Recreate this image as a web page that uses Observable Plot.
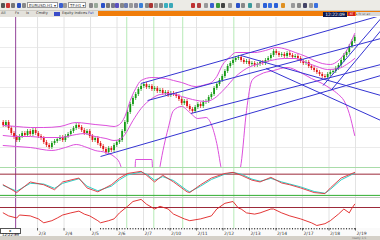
<!DOCTYPE html>
<html><head><meta charset="utf-8">
<script src="https://cdn.jsdelivr.net/npm/d3@7"></script>
<script src="https://cdn.jsdelivr.net/npm/@observablehq/plot@0.6"></script>
<style>
html,body{margin:0;padding:0;background:#d6d3ce;}
#wrap{position:relative;width:380px;height:240px;overflow:hidden;font-family:"DejaVu Sans",sans-serif;background:#fff;}
.abs{position:absolute;}
.ico{position:absolute;top:3px;width:4px;height:5px;border-radius:1px;}
.dd{position:absolute;top:2px;height:6px;background:#fff;border:1px solid #9a9a9a;font-size:4px;line-height:6px;color:#333;padding-left:1px;box-sizing:border-box;white-space:nowrap;overflow:hidden;}
.tab{position:absolute;top:11px;height:5px;font-size:3.6px;line-height:5px;color:#333;white-space:nowrap;}
svg{display:block;}
</style></head>
<body><div id="wrap">
 <div class="abs" id="tb" style="left:0;top:0;width:380px;height:11px;background:#ecebe6;border-bottom:1px solid #cfccc4;box-sizing:border-box;"></div>
 <div class="dd" style="left:27px;width:31px;">EURUSD,H1 ▾</div>
 <div class="dd" style="left:68px;width:18px;">TF:H1 ▾</div>
 <div class="abs" style="left:0;top:11px;width:98px;height:6px;background:#e4e2dc;"></div>
 <div class="tab" style="left:1px;">All</div>
 <div class="tab" style="left:15px;">Fx</div>
 <div class="tab" style="left:26px;">Ix</div>
 <div class="tab" style="left:36px;">Cmdty</div>
 <div class="abs" style="left:54px;top:12px;width:6px;height:4px;background:#3a4cc8;"></div>
 <div class="tab" style="left:62px;">Equity Indices</div>
 <div class="tab" style="left:88px;color:#2040c0;">Fut</div>
 <div class="abs" style="left:98px;top:11px;width:282px;height:5px;background:#f07d0a;"></div>
 <div class="abs" style="left:323px;top:12px;width:24px;height:5px;background:#0c1850;color:#fff;font-size:4.4px;line-height:5px;text-align:center;">12:22:09</div>
 <div class="abs" style="left:348px;top:12px;width:7px;height:4px;background:#d42020;color:#fff;font-size:3px;line-height:4px;text-align:center;">RT</div>
 <div class="abs" style="left:356px;top:12px;width:24px;height:4px;background:#d9d9d9;color:#555;font-size:3px;line-height:4px;">▸ fx sx ax</div>
 <div id="main" class="abs" style="left:0;top:17px;"></div>
 <div class="abs" style="left:0;top:167px;width:380px;height:1px;background:#a9dca9;"></div>
 <div id="stoch" class="abs" style="left:0;top:168px;"></div>
 <div class="abs" style="left:0;top:197px;width:380px;height:1px;background:#c4c4c4;"></div>
 <div id="rsi" class="abs" style="left:0;top:198px;"></div>
 <div id="axis" class="abs" style="left:0;top:228px;"></div>
 <div class="abs" style="left:0;top:228px;width:21px;height:6px;background:#fff;border:1px solid #555;box-sizing:border-box;font-size:3.8px;line-height:4px;color:#111;text-align:center;">▸ 12:22:09</div>
 <div class="abs" style="left:0;top:236px;width:380px;height:4px;background:#d4d0c8;"></div>
 <div class="abs" style="left:352px;top:236px;width:28px;height:4px;font-size:3px;line-height:4px;color:#777;">ready 1/1</div>
</div>
<script>
// ---- data (price in chart units, x = bar index) ----
const closes = [43,46,40,35,31,28,32,35,33,37,
 34,38,35,32,30,26,23,21,25,27,
 29,31,28,32,34,37,40,43,41,38,
 35,37,32,28,30,25,22,19,16,20,
 18,23,26,28,37,46,56,64,70,74,
 79,82,84,81,82,79,80,77,78,75,
 76,73,75,74,72,69,65,67,62,59,
 57,61,64,62,66,67,71,74,80,84,
 88,92,97,102,105,108,110,111,108,106,
 107,104,105,103,104,106,105,108,110,113,
 117,115,113,114,112,115,113,111,112,110,
 107,105,106,102,100,98,96,94,92,91,
 94,96,97,100,103,108,113,116,122,127,
 131];
const upperBand = [[0,43],[5,42],[10,41],[15,41],[21,42],[27,46],[31,45],[34,44],[38,43],[41,42],[43,44],[45,52],[47,68],[49,80],[51,88],[55,91],[60,90],[63,88],[66,86],[71,82],[75,84],[77,86],[79,92],[81,103],[84,112],[86,116],[93,116],[97,118],[101,121],[105,119],[108,116],[112,112],[115,108],[118,105],[121,104],[124,108],[127,118],[130,135]];
const middleBand = [[0,33],[5,32],[10,32],[15,31],[21,31],[27,34],[30,35],[34,32],[38,30],[41,28],[43,29],[45,34],[48,48],[51,60],[55,70],[58,74],[62,75],[66,72],[70,69],[75,67],[78,70],[82,80],[86,92],[90,100],[95,105],[99,108],[104,110],[108,110],[112,106],[116,102],[120,99],[124,100],[127,104],[130,110]];
const lowerBand = [[0,23],[5,22],[10,21],[18,18],[23,21],[27,24],[31,21],[34,18],[38,16],[41,12],[43,6],[45,-10],[48.5,-15],[49,9],[55,9],[55.5,-15],[57,-15],[58,2],[61,40],[63,58],[66,62],[69,56],[72,50],[75,51],[77,44],[79,25],[81,-5],[83,-20],[86,-15],[88,5],[90,58],[92,88],[95,94],[100,98],[105,101],[110,96],[114,90],[118,85],[121,80],[124,74],[126,68],[128,55],[130,33]];
const trendLines = [[50.9,85,139.7,153],[53.4,68,139.7,130],[36.0,12,139.7,93],[69.4,55,139.7,104],[87.9,113,139.7,73],[97.2,100,139.7,48],[118.3,83,139.7,150],[121.2,78,139.7,138]];
const stochK = [[0,50],[5,28],[10,58],[15,50],[19,36],[22,58],[28,69],[31,41],[35,30],[40,50],[43,69],[46,82],[51,88],[53,77],[56,58],[59,77],[63,58],[68,30],[69,28],[73,50],[77,69],[82,82],[85,85],[88,77],[92,63],[95,58],[99,71],[103,55],[106,50],[110,41],[115,28],[119,25],[121,41],[125,69],[130,85]];
const stochD = [[0,48],[5,32],[10,54],[15,52],[19,40],[22,54],[28,67],[31,46],[35,33],[40,46],[43,64],[46,78],[51,86],[53,80],[56,63],[59,73],[63,62],[68,34],[69,30],[73,46],[77,65],[82,80],[85,85],[88,80],[92,66],[95,60],[99,68],[103,58],[106,52],[110,44],[115,31],[119,26],[121,37],[125,64],[130,83]];
const rsi = [[0,52],[2,42],[5,35],[6,45],[10,42],[13,32],[15,19],[18,26],[20,35],[22,45],[25,52],[28,58],[30,48],[32,42],[35,26],[36,19],[39,26],[41,32],[43,52],[46,74],[48,90],[51,97],[53,81],[56,65],[58,74],[61,65],[63,48],[67,32],[69,26],[73,32],[77,42],[79,65],[82,84],[85,90],[87,68],[88,65],[90,52],[93,48],[95,52],[99,65],[100,65],[103,52],[106,42],[110,32],[114,19],[116,10],[119,16],[121,26],[124,48],[126,65],[128,52],[129,68],[130,81]];
const timeTicks = [12.7,22.5,32.3,42.1,51.9,61.7,71.5,81.3,91.1,100.9,110.7,120.5,130.3];
const timeLabels = ["2/3","2/4","2/5","2/6","2/7","2/10","2/11","2/12","2/13","2/14","2/17","2/18","2/19"];
const eventLines = [45.7,55.7,66.4,85.3];
const markerLine = [4.6];
const priceGrid = [21,41,61,81,101,121,141];
const stochLevels = {hi:[80], lo:[20]};
const rsiLevel = [70];

// toolbar icons (decoration)
const icons = [[1,"#555"],[6,"#c33"],[11,"#777"],[17,"#2a4fc0"],[22,"#888"],[59,"#3a5fd0"],[63,"#999"],[89,"#888"],[94,"#9a9"],[101,"#2a50c8"],[106,"#777"],[111,"#778"],[115,"#5b4fc0"],[120,"#888"],[124,"#6a7ab0"],[129,"#999"],[134,"#889"],[139,"#3a7fd8"],[145,"#888"],[149,"#a33"],[154,"#999"],[159,"#888"],[164,"#3ab0c0"],[169,"#3aa8b8"],[191,"#c03030"],[197,"#b04040"],[204,"#999"],[210,"#3a5fd0"],[216,"#3a9a3a"],[221,"#444"],[228,"#999"],[236,"#2a50c8"],[241,"#888"],[248,"#3a9a9a"],[256,"#999"],[263,"#2a5fd8"],[268,"#3a70e0"],[274,"#2a5fd8"],[281,"#e09020"],[291,"#999"],[297,"#888"],[303,"#446"],[309,"#999"],[314,"#3a70e0"]];
const wrap = document.getElementById("wrap");
for (const [x,c] of icons){const s=document.createElement("div");s.className="ico";s.style.left=x+"px";s.style.background=c;wrap.appendChild(s);}

const candles = closes.map((c,i)=>{const o = i ? closes[i-1] : c+3; return {i,o,c,hi:Math.max(o,c)+2,lo:Math.min(o,c)-2};});
const UP="#159a15", DN="#e01414";
const xOpt = {domain:[-1,134], range:[0,365], axis:null};
const grid = () => [
  Plot.ruleX(timeTicks,{stroke:"#e3e3e3",strokeWidth:1}),
  Plot.ruleX(eventLines,{stroke:"#b6eab6",strokeWidth:1}),
  Plot.ruleX(markerLine,{stroke:"#93449a",strokeWidth:1})
];
const style = {background:"#fff",overflow:"hidden"};

document.getElementById("main").appendChild(Plot.plot({
  width:380,height:150,margin:0,style,
  x:xOpt, y:{domain:[1,151],axis:null},
  marks:[
    Plot.ruleY(priceGrid,{stroke:"#ebebeb"}),
    ...grid(),
    Plot.ruleX(candles,{filter:d=>d.c>=d.o,x:"i",y1:"lo",y2:"hi",stroke:UP,strokeWidth:0.7}),
    Plot.ruleX(candles,{filter:d=>d.c<d.o,x:"i",y1:"lo",y2:"hi",stroke:DN,strokeWidth:0.7}),
    Plot.ruleX(candles,{filter:d=>d.c>=d.o,x:"i",y1:"o",y2:"c",stroke:UP,strokeWidth:1.8}),
    Plot.ruleX(candles,{filter:d=>d.c<d.o,x:"i",y1:"o",y2:"c",stroke:DN,strokeWidth:1.8}),
    Plot.line(upperBand,{x:d=>d[0],y:d=>d[1],stroke:"#dc4fdc",strokeWidth:1,curve:"monotone-x",clip:true}),
    Plot.line(middleBand,{x:d=>d[0],y:d=>d[1],stroke:"#dc4fdc",strokeWidth:1,curve:"monotone-x",clip:true}),
    Plot.line(lowerBand,{x:d=>d[0],y:d=>d[1],stroke:"#dc4fdc",strokeWidth:1,curve:"monotone-x",clip:true}),
    Plot.link(trendLines,{x1:d=>d[0],y1:d=>d[1],x2:d=>d[2],y2:d=>d[3],stroke:"#3434d2",strokeWidth:1,clip:true})
  ]
}));

document.getElementById("stoch").appendChild(Plot.plot({
  width:380,height:29,margin:0,style,
  x:xOpt, y:{domain:[14,96],axis:null},
  marks:[
    ...grid(),
    Plot.ruleY(stochLevels.hi,{stroke:"#9c2a3a",strokeWidth:1}),
    Plot.ruleY(stochLevels.lo,{stroke:"#2fae2f",strokeWidth:1}),
    Plot.line(stochD,{x:d=>d[0],y:d=>d[1],stroke:"#2ed3c6",strokeWidth:1,clip:true}),
    Plot.line(stochK,{x:d=>d[0],y:d=>d[1],stroke:"#e0303a",strokeWidth:0.9,clip:true})
  ]
}));

document.getElementById("rsi").appendChild(Plot.plot({
  width:380,height:30,margin:0,style,
  x:xOpt, y:{domain:[0,100],axis:null},
  marks:[
    ...grid(),
    Plot.ruleY(rsiLevel,{stroke:"#9c2a3a",strokeWidth:1}),
    Plot.line(rsi,{x:d=>d[0],y:d=>d[1],stroke:"#e02020",strokeWidth:0.9,clip:true})
  ]
}));

document.getElementById("axis").appendChild(Plot.plot({
  width:380,height:8,margin:0,style:{background:"#fafafa",overflow:"hidden"},
  x:xOpt, y:{domain:[0,8],axis:null},
  marks:[
    Plot.ruleX(markerLine,{y1:1,y2:8,stroke:"#93449a",strokeWidth:1}),
    Plot.ruleX(candles,{filter:d=>d.i>=36,x:"i",y1:8,y2:6.6,stroke:"#222",strokeWidth:0.9}),
    Plot.ruleX(timeTicks,{y1:8,y2:5.5,stroke:"#333",strokeWidth:0.8}),
    Plot.text(timeTicks,{x:d=>d,y:3,text:(d,i)=>timeLabels[i],fontSize:4.5,fill:"#333",textAnchor:"start",dx:1,fontFamily:"DejaVu Sans"})
  ]
}));
</script>
</body></html>
